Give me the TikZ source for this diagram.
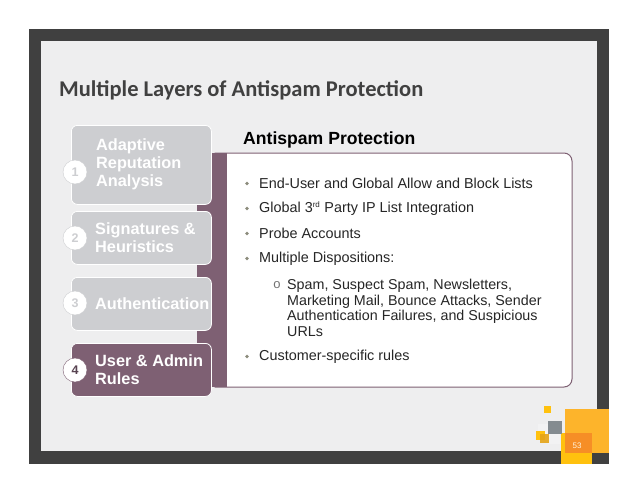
\documentclass[tikz,border=0pt]{standalone}
\usepackage{fontspec}
\setmainfont{Liberation Sans}
\newfontfamily\titlefont{Carlito}
\usetikzlibrary{positioning}
\definecolor{framegray}{HTML}{404040}
\definecolor{slidegray}{HTML}{EEEEEF}
\definecolor{stagegray}{HTML}{CDCED1}
\definecolor{plum}{HTML}{7E6073}
\definecolor{dotgray}{HTML}{8C8C7C}
\definecolor{amber}{HTML}{FDB42B}
\definecolor{sunny}{HTML}{FFC10E}
\definecolor{deeporange}{HTML}{F68E26}
\definecolor{squaregray}{HTML}{848B90}
\definecolor{darksunny}{HTML}{E5A417}
\tikzset{
    stage/.style={draw=white, line width=0.8pt, rounded corners=6pt, fill=stagegray, minimum width=140pt, anchor=north west, inner sep=0pt},
    stage text/.style={anchor=west, inner sep=0pt, align=left, text=white, font=\fontsize{16.3}{18}\selectfont\bfseries},
    badge/.style={circle, draw=stagegray, fill=white, minimum size=24pt, inner sep=0pt, text=stagegray, font=\fontsize{12.5}{15}\selectfont\bfseries},
    bullet/.style={anchor=west, inner sep=0pt, text=black!85, font=\fontsize{14.4}{15.5}\selectfont},
    dot/.style={circle, fill=dotgray, minimum size=3.6pt, inner sep=0pt},
    square/.style={anchor=north west, inner sep=0pt, draw=none},
}
\newcommand{\squarebox}[6]{\node[square, fill=#1, fill opacity=#6, minimum width=#4pt, minimum height=#5pt] at (#2,#3) {};}

\begin{document}
\begin{tikzpicture}[x=1pt, y=-1pt]
    \useasboundingbox (0,0) rectangle (638,493);
    \fill[white] (0,0) rectangle (638,493);
    \fill[framegray] (29,29) rectangle (609,464);
    \fill[slidegray] (41,41) rectangle (597,451);

    \node[anchor=west, inner sep=0pt, text=framegray, font=\titlefont\fontsize{22.5}{24}\selectfont\bfseries] (title) at (59,90) {Multiple Layers of Antispam Protection};

    % panel behind the stages
    \draw[plum, fill=white, line width=1pt] (215,153) -- (564,153) to[out=0, in=90] (572,161) -- (572,379) to[out=-90, in=0] (564,387) -- (215,387) -- cycle;
    \fill[plum] (197,153) rectangle (227,387);

    \node[anchor=west, inner sep=0pt, font=\fontsize{17.6}{19}\selectfont\bfseries] (heading) at (243,140) {Antispam Protection};

    % stages
    \node[stage, minimum height=79pt] (s1) at (71,125) {};
    \node[stage, minimum height=53pt] (s2) at (71,211) {};
    \node[stage, minimum height=53pt] (s3) at (71,277) {};
    \node[stage, minimum height=53pt, fill=plum] (s4) at (71,343) {};

    \node[badge] (b1) at (75,172) {1};
    \node[badge] (b2) at (75,238) {2};
    \node[badge] (b3) at (75,303) {3};
    \node[badge, draw=plum, text=plum!70!black] (b4) at (75,370) {4};

    \node[stage text] (t1) at (96,164.5) {Adaptive\\Reputation\\Analysis};
    \node[stage text] (t2) at (95,237.5) {Signatures \&\\Heuristics};
    \node[stage text] (t3) at (95,303.5) {Authentication};
    \node[stage text] (t4) at (95,369.5) {User \& Admin\\Rules};

    % bullets
    \node[bullet] (l1) at (259,183.5) {End-User and Global Allow and Block Lists};
    \node[bullet] (l2) at (259,208.5) {Global 3\textsuperscript{\fontsize{8}{9}\selectfont rd} Party IP List Integration};
    \node[bullet] (l3) at (259,233.5) {Probe Accounts};
    \node[bullet] (l4) at (259,258.5) {Multiple Dispositions:};
    \node[bullet, anchor=north west, align=left, font=\fontsize{14.3}{15.6}\selectfont] (l5) at (287,279) {Spam, Suspect Spam, Newsletters,\\Marketing Mail, Bounce Attacks, Sender\\Authentication Failures, and Suspicious\\URLs};
    \node[bullet] (l6) at (259,356.5) {Customer-specific rules};
    \foreach \l in {l1,l2,l3,l4,l6}
        \node[dot, left=10pt of \l] {};
    \node[inner sep=0pt, text=black!55, font=\fontsize{13}{15}\selectfont] (o5) at (277,285) {o};

    % corner squares
    \squarebox{amber}{565}{409}{44}{44}{1}
    \squarebox{sunny}{561}{433}{31}{31}{1}
    \squarebox{deeporange}{565}{433}{27}{20}{1}
    \squarebox{white}{538}{424}{12}{16}{0.25}
    \squarebox{white}{548}{434}{12}{10}{0.25}
    \squarebox{squaregray}{548}{421}{14}{13}{1}
    \squarebox{sunny}{544}{406}{7}{7}{1}
    \squarebox{sunny}{536}{431}{9}{9}{1}
    \squarebox{darksunny}{540}{434}{9}{9}{0.9}
    \node[inner sep=0pt, text=white!85!amber, font=\fontsize{8}{9}\selectfont] (num) at (577,446) {53};
\end{tikzpicture}
\end{document}
